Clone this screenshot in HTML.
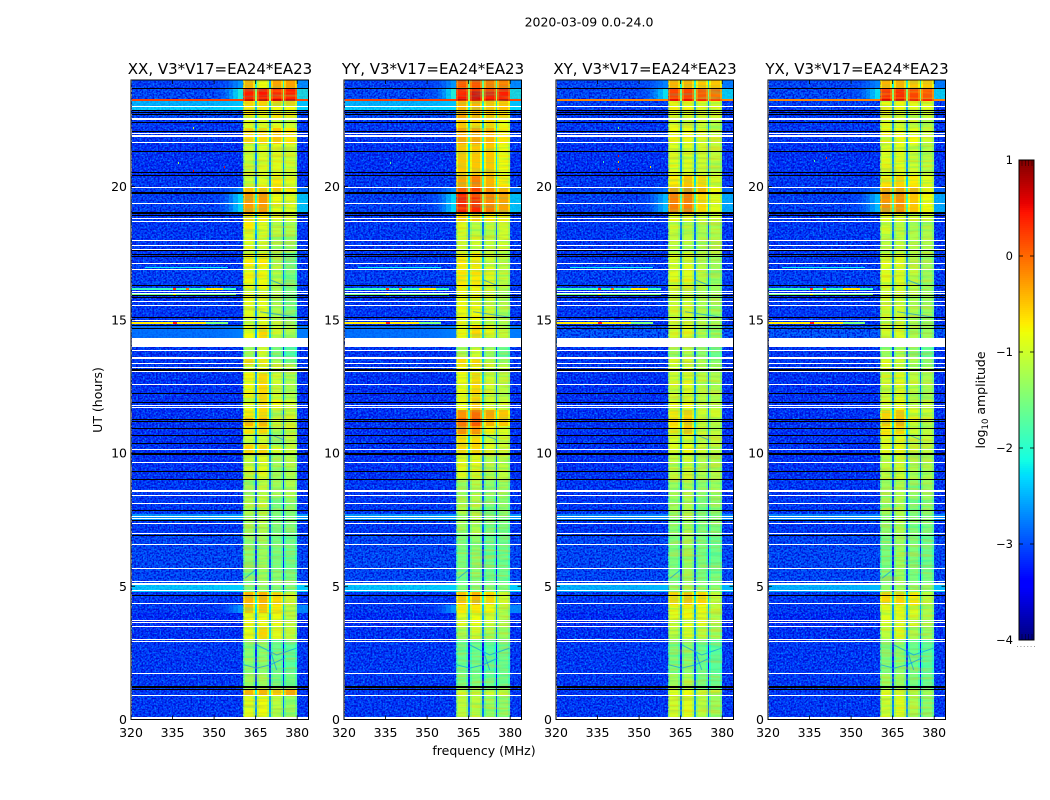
<!DOCTYPE html>
<html>
<head>
<meta charset="utf-8">
<title>2020-03-09 0.0-24.0</title>
<style>
html,body{margin:0;padding:0;background:#fff;}
body{width:1050px;height:800px;overflow:hidden;}
svg{display:block;font-family:"DejaVu Sans","Liberation Sans",sans-serif;fill:#000;}
</style>
</head>
<body>
<svg id="figure" xmlns="http://www.w3.org/2000/svg" width="1050" height="800" viewBox="0 0 1050 800">
<defs>
<filter id="speckle-light" x="0" y="0" width="100%" height="100%" color-interpolation-filters="sRGB">
<feTurbulence type="fractalNoise" baseFrequency="0.6" numOctaves="1" seed="4"/>
<feColorMatrix type="matrix" values="0 0 0 0 0  0 0 0 0 .5  0 0 0 0 1  4.2 0 0 0 -1.85"/>
</filter>
<filter id="speckle-dark" x="0" y="0" width="100%" height="100%" color-interpolation-filters="sRGB">
<feTurbulence type="fractalNoise" baseFrequency="0.55" numOctaves="1" seed="11"/>
<feColorMatrix type="matrix" values="0 0 0 0 0  0 0 0 0 0  0 0 0 0 .8  4.2 0 0 0 -1.8"/>
</filter>
<filter id="streak-cool" x="0" y="0" width="100%" height="100%" color-interpolation-filters="sRGB">
<feTurbulence type="fractalNoise" baseFrequency="0.03 0.4" numOctaves="2" seed="7"/>
<feColorMatrix type="matrix" values="0 0 0 0 0  0 0 0 0 .9  0 0 0 0 .7  4 0 0 0 -1.8"/>
</filter>
<filter id="streak-warm" x="0" y="0" width="100%" height="100%" color-interpolation-filters="sRGB">
<feTurbulence type="fractalNoise" baseFrequency="0.03 0.4" numOctaves="2" seed="21"/>
<feColorMatrix type="matrix" values="0 0 0 0 1  0 0 0 0 .7  0 0 0 0 0  4 0 0 0 -1.8"/>
</filter>
</defs>
<text x="589" y="26.5" font-size="12.5" text-anchor="middle">2020-03-09 0.0-24.0</text>
<text x="484" y="755" font-size="12.5" text-anchor="middle">frequency (MHz)</text>
<text transform="translate(102 400) rotate(-90)" font-size="12.5" text-anchor="middle">UT (hours)</text>
<text transform="translate(985 400) rotate(-90)" font-size="12.5" text-anchor="middle">log<tspan font-size="8.5" dy="3">10</tspan><tspan dy="-3"> amplitude</tspan></text>
<g id="panels"></g>
<g id="colorbar"></g>
</svg>
<script>
// ---- tick labels and categories
const panelTitles = ["XX, V3*V17=EA24*EA23","YY, V3*V17=EA24*EA23","XY, V3*V17=EA24*EA23","YX, V3*V17=EA24*EA23"];
const freqTicks = [320,335,350,365,380];
const hourTicks = [0,5,10,15,20];
const colorbarTicks = [1,0,-1,-2,-3,-4];

// ---- time rows (hours): 48 rows, 49 edges
const rowEdgeHours = [0.08,0.9,1.1,1.7,3,3.5,4,4.3,4.8,5.1,5.5,7,7.5,7.7,8.3,9,10,10.3,10.7,11,11.3,11.6,12,13,13.3,13.6,14,14.3,14.8,15,16,16.2,17,17.5,18.2,18.7,19,19.7,20,20.4,21.6,22.2,22.5,22.85,23,23.2,23.3,23.7,24];

// ---- off-band background log10 amplitude per row
const backgroundParallel = [-3.1,-3.1,-3.1,-3.1,-3.15,-3.2,-3.1,-3.1,-2.35,-3,-3,-3.1,-2.6,-3.1,-3.1,-3.15,-3.15,-3.15,-3.15,-3.15,-3.15,-3.15,-3.15,-3.1,-3.1,-3.1,-3.1,-2.8,-3.1,-3.1,-3.1,-3.05,-3.1,-3.1,-3.1,-3.1,-3.05,-3.05,-3.1,-3.15,-3.1,-3.1,-3,-2.3,-2.45,0.2,-3,-3.05];
const backgroundCross = [-3.1,-3.1,-3.1,-3.1,-3.15,-3.2,-3.1,-3.1,-2.45,-3,-3,-3.1,-2.7,-3.1,-3.1,-3.15,-3.15,-3.15,-3.15,-3.15,-3.15,-3.15,-3.15,-3.1,-3.1,-3.1,-3.1,-2.9,-3.1,-3.1,-3.1,-3.05,-3.1,-3.1,-3.1,-3.1,-3.05,-3.05,-3.1,-3.15,-3.1,-3.1,-3.1,-3.05,-3.05,-0.15,-3,-3];
const wingParallel = [-3.1,-3.1,-3.1,-3.1,-3.1,-3.1,-2.6,-3,-2.35,-3,-3,-3.1,-2.6,-3.1,-3.1,-3.1,-3.1,-3.1,-3.1,-3.1,-3.1,-3.1,-3.1,-3.1,-3.1,-3,-3,-2.75,-3,-3,-3,-3,-3,-3,-3,-3,-2.25,-2.7,-2.9,-3,-2.9,-3,-2.9,-2.3,-2.4,0.2,-2.05,-2.6];
const wingCross = [-3.1,-3.1,-3.1,-3.1,-3.1,-3.1,-2.9,-3,-2.45,-3,-3,-3.1,-2.7,-3.1,-3.1,-3.1,-3.1,-3.1,-3.1,-3.1,-3.1,-3.1,-3.1,-3.1,-3.1,-3,-3,-2.85,-3,-3,-3,-3,-3,-3,-3,-3,-2.4,-2.8,-2.9,-3,-3,-3,-3,-2.95,-2.9,-0.15,-2.2,-2.7];

// ---- sub-band log10 amplitude per row: [365, 370, 375, 380 MHz sub-bands]
const bandsXX = [[-0.9,-0.8,-1.1,-1.3],[-0.4,-0.4,-0.5,-0.3],[-1.3,-1.3,-1.5,-1.5],[-1.4,-1.4,-1.6,-1.7],[-0.8,-0.6,-0.9,-1.1],[-0.8,-0.8,-0.8,-1.1],[-0.5,-0.5,-0.7,-1.1],[-0.4,-0.4,-0.6,-1],[-1.5,-1.4,-1.5,-1.5],[-1.5,-1.3,-1.4,-1.5],[-1.4,-1.3,-1.5,-1.6],[-1.3,-1.2,-1.5,-1.5],[-1.3,-1.2,-1.5,-1.5],[-1.2,-1.1,-1.5,-1.4],[-1.3,-1.1,-1.3,-1.2],[-1,-0.9,-1.3,-1.2],[-0.6,-0.6,-0.9,-1],[-1,-1,-1.4,-1.1],[-0.7,-0.6,-1.2,-1],[-0.4,-0.4,-1,-1],[-0.7,-0.6,-1.2,-1],[-0.8,-0.6,-0.8,-1],[-0.8,-0.6,-1,-1.2],[-1,-0.9,-1.1,-1.2],[-0.6,-0.7,-1.2,-1.5],[-1.3,-1,-1.5,-1.8],[-1.3,-1,-1.5,-1.8],[-0.8,-0.6,-1,-1.2],[-1,-0.9,-1.1,-1.4],[-0.9,-0.9,-1.2,-1.5],[-0.9,-0.9,-1.2,-1.5],[-0.8,-0.8,-1.1,-1.5],[-0.7,-0.7,-1.2,-1.6],[-0.9,-1,-1.2,-1.3],[-0.7,-0.9,-1.1,-1.2],[-0.6,-0.7,-0.9,-1],[-0.25,-0.25,-0.8,-0.9],[-0.5,-0.5,-0.5,-0.7],[-1,-0.9,-0.7,-0.9],[-1,-0.9,-0.9,-1],[-0.6,-0.6,-0.5,-0.7],[-0.9,-0.9,-0.9,-1],[-0.7,-0.8,-0.7,-0.8],[-0.7,-0.7,-0.8,-0.8],[-0.6,-0.6,-0.6,-0.6],[0.7,0.7,0.65,0.6],[0.4,0.45,0.35,0.4],[-0.4,-0.8,-0.3,-0.3]];
const bandsYY = [[-1.1,-1.1,-1.3,-1.4],[-1,-1,-1,-1],[-1.5,-1.5,-1.6,-1.6],[-1.6,-1.6,-1.7,-1.6],[-1.2,-1,-1.2,-1.3],[-0.9,-0.8,-1,-1.2],[-0.7,-0.7,-0.8,-1.1],[-0.5,-0.4,-0.6,-1],[-1.5,-1.5,-1.5,-1.5],[-1.6,-1.4,-1.6,-1.6],[-1.5,-1.4,-1.6,-1.6],[-1.3,-1.2,-1.5,-1.5],[-1.3,-1.2,-1.5,-1.5],[-1.2,-1.2,-1.5,-1.4],[-1.3,-1.2,-1.4,-1.3],[-0.9,-0.9,-1.2,-1.1],[-0.6,-0.6,-0.9,-1],[-0.6,-0.6,-1,-1],[-0.2,-0.2,-0.8,-0.9],[0,0.1,-0.4,-0.5],[-0.2,0,-0.3,-0.5],[-0.8,-0.5,-0.9,-1],[-0.8,-0.6,-1,-1.1],[-0.8,-0.8,-1,-1.1],[-0.6,-0.6,-1,-1.3],[-1.2,-1,-1.3,-1.6],[-1.2,-1,-1.3,-1.6],[-0.8,-0.6,-0.9,-1.1],[-0.9,-0.8,-1,-1.2],[-0.8,-0.8,-1,-1.2],[-0.8,-0.8,-1,-1.2],[-0.7,-0.7,-0.9,-1.1],[-0.7,-0.7,-1,-1.1],[-1,-1,-1.1,-1],[-0.9,-1.1,-1.1,-1],[-0.5,-0.5,-0.7,-0.7],[0.4,0.35,-0.1,-0.3],[0.1,0.2,-0.2,-0.4],[-0.3,-0.1,-0.4,-0.7],[-0.5,-0.5,-0.5,-0.8],[-0.3,-0.3,-0.4,-0.7],[-0.5,-0.6,-0.6,-0.8],[-0.3,-0.4,-0.5,-0.6],[-0.4,-0.4,-0.5,-0.5],[-0.4,-0.4,-0.5,-0.5],[0.7,0.7,0.7,0.7],[0.45,0.55,0.45,0.4],[0.1,0.1,-0.1,-0.1]];
const bandsXY = [[-1,-0.9,-1.1,-1.3],[-0.9,-0.8,-1,-1.1],[-1.3,-1.2,-1.5,-1.6],[-1.5,-1.4,-1.6,-1.7],[-1.1,-0.9,-1.1,-1.3],[-0.9,-0.8,-0.9,-1.2],[-0.9,-0.8,-0.8,-1.1],[-0.6,-0.5,-0.6,-1.1],[-1.4,-1.3,-1.4,-1.4],[-1.5,-1.3,-1.5,-1.5],[-1.5,-1.3,-1.5,-1.6],[-1.4,-1.2,-1.5,-1.5],[-1.4,-1.2,-1.5,-1.5],[-1.3,-1.2,-1.5,-1.4],[-1.3,-1.2,-1.4,-1.3],[-1.1,-1,-1.2,-1.2],[-0.9,-0.8,-1,-1.1],[-0.9,-0.9,-1.1,-1.1],[-0.7,-0.5,-1,-1.1],[-0.6,-0.5,-1,-1.1],[-0.7,-0.6,-1,-1],[-0.9,-0.8,-1.1,-1.1],[-1,-0.9,-1.1,-1.2],[-1,-1,-1.2,-1.2],[-0.9,-1,-1.2,-1.4],[-1.3,-1.2,-1.4,-1.6],[-1.3,-1.2,-1.4,-1.6],[-1,-0.9,-1.2,-1.3],[-1,-1,-1.2,-1.3],[-1,-1,-1.2,-1.3],[-1,-1,-1.2,-1.3],[-0.9,-0.9,-1.1,-1.3],[-0.9,-0.9,-1.2,-1.3],[-1.1,-1.1,-1.2,-1.2],[-1,-1.1,-1.2,-1.2],[-0.8,-0.9,-1,-1],[-0.1,-0.1,-0.6,-0.9],[-0.3,-0.2,-0.4,-0.8],[-0.7,-0.5,-0.6,-0.9],[-0.9,-0.9,-1,-1.1],[-0.8,-0.8,-0.9,-1],[-0.9,-1,-1,-1.1],[-0.9,-0.9,-1,-1],[-0.8,-0.8,-0.9,-0.9],[-0.8,-0.8,-0.9,-0.9],[0.5,0.5,0.4,0.3],[0.2,0.2,0.1,0],[-0.4,-0.4,-0.5,-0.5]];
const bandsYX = [[-1,-0.9,-1.2,-1.4],[-0.9,-0.9,-1,-1.2],[-1.3,-1.3,-1.5,-1.6],[-1.5,-1.4,-1.6,-1.7],[-1.1,-0.9,-1.2,-1.3],[-0.9,-0.9,-1,-1.2],[-0.9,-0.8,-0.9,-1.2],[-0.6,-0.6,-0.7,-1.1],[-1.4,-1.3,-1.4,-1.4],[-1.5,-1.3,-1.5,-1.5],[-1.5,-1.3,-1.5,-1.6],[-1.4,-1.2,-1.5,-1.5],[-1.4,-1.2,-1.5,-1.5],[-1.3,-1.2,-1.5,-1.4],[-1.3,-1.2,-1.4,-1.3],[-1.1,-1,-1.2,-1.2],[-0.9,-0.8,-1,-1.1],[-0.9,-0.9,-1.1,-1.1],[-0.7,-0.6,-1,-1.1],[-0.5,-0.4,-0.9,-1.1],[-0.6,-0.5,-0.9,-1],[-0.9,-0.8,-1.1,-1.1],[-1,-0.9,-1.1,-1.2],[-1,-1,-1.2,-1.2],[-0.9,-1,-1.2,-1.4],[-1.3,-1.2,-1.4,-1.6],[-1.3,-1.2,-1.4,-1.6],[-1,-0.9,-1.2,-1.3],[-1,-1,-1.2,-1.3],[-1,-1,-1.2,-1.3],[-1,-1,-1.2,-1.3],[-0.9,-0.9,-1.1,-1.3],[-0.9,-0.9,-1.2,-1.3],[-1.1,-1.1,-1.2,-1.2],[-1,-1.1,-1.2,-1.2],[-0.8,-0.9,-1,-1],[-0.2,-0.2,-0.5,-0.8],[-0.3,-0.3,-0.4,-0.8],[-0.7,-0.6,-0.7,-0.9],[-0.9,-0.9,-1,-1.1],[-0.8,-0.8,-0.8,-1],[-0.9,-1,-1,-1.1],[-0.9,-0.9,-1,-1],[-0.8,-0.8,-0.9,-0.9],[-0.8,-0.8,-0.9,-0.9],[0.6,0.6,0.5,0.4],[0.3,0.35,0.2,0.1],[-0.4,-0.4,-0.5,-0.5]];

// ---- flagged integrations (hours)
const whiteFlagHours = [23.02,22.56,22.5,21.99,21.93,21.87,21.66,19.97,19.37,18.8,18.69,17.98,17.78,17.64,17.12,16.89,16.05,15.99,15.7,15.54,14.99,13.83,13.6,13.56,13.34,13.22,13.05,12.58,11.8,11.69,10.14,9.65,8.59,8.55,8.42,8.11,7.6,7.56,7.36,6.97,6.57,5.67,5.16,5.12,5.08,4.83,4.36,3.7,3.65,3.48,3.01,2.91,1.73,0.91];
const blackFlagHours = [23.66,22.85,22.78,22.69,22.41,22.05,21.32,20.53,20.41,19.77,19.72,19.04,18.97,18.9,17.59,17.44,17.39,16.3,15.92,15.85,15.09,14.78,14.68,13.15,13.11,12.24,11.88,11.24,11.2,10.93,10.64,10.34,10,9.96,9.32,9.01,7.86,7.45,6.92,4.67,1.23,1.19,1.11];
const blankStartHours = [13.99,0];
const blankEndHours = [14.31,0.08];

// ---- narrow-band interference lines
const rfiHours = [16.18,16.18,16.18,16.18,15.97,15.97,14.88,14.88,14.88,16.95];
const rfiStartFreq = [320,335,340,347,320,335,320,335,347,325];
const rfiEndFreq = [358,336,341,353,358,336,347,336.5,355,355];
const rfiLevels = [-1.9,0.3,0,-0.7,-1.6,-0.8,-0.7,0.4,-1.5,-2.2];

// ---- isolated spikes
const spikePanels = [0,0,0,0,1,2,2,2,2,2,2,3,3];
const spikeHours = [22.2,20.9,20.73,20.6,20.9,22.2,21.15,20.93,20.67,20.74,20.93,20.95,21.07];
const spikeFreqs = [342.4,337,353.6,342.4,336.6,342.4,342.4,342.4,342.4,353.8,337,336.6,341];
const spikeLevels = [-1,-1.3,0.5,0.6,-1.7,-1.5,0.5,-0.4,0.6,-0.6,-2,-1.7,0.3];

// ---- faint absorption trails across the sub-bands
const trailFreqs = [[365.4,372.6,379.8],[360.8,365.4,370.2,375.6],[370.2,372.6],[361.2,364.8],[366.6,379.6],[370.2,375],[370.2,375]];
const trailHours = [[2.8,2.42,2.68],[2.05,1.93,2.05,2.31],[2.6,1.86],[5.3,5.6],[15.3,15.1],[16.5,16.3],[10.7,10.5]];
const trailLevel = -2.7;

// ---- sub-band structure (MHz)
const bandLowFreq = [360.5,365.5,370.5,375.4];
const bandHighFreq = [364.9,369.9,374.8,380];
const bandRolloff = -0.28;
const gapDrop = -1.75;
const wingEdgeFreqs = [350,352,354,355.5,357,358.5,360.5];
const wingWeights = [0.08,0.2,0.38,0.58,0.8,1];

const panelBands = [bandsXX,bandsYY,bandsXY,bandsYX];
const panelBackground = [backgroundParallel,backgroundParallel,backgroundCross,backgroundCross];
const panelWing = [wingParallel,wingParallel,wingCross,wingCross];

// ---- axes
const NS = "http://www.w3.org/2000/svg";
const axesLeft = [131,344,556,768];
const axesTop = 80, axesBottom = 719.5, pxPerMHz = 2.77, pxPerHour = 26.65, imageStartFreq = 320.3, freqMax = 384;
function xScale(p, f){ return axesLeft[p] + (f - 320) * pxPerMHz; }
function yScale(h){ return axesBottom - h * pxPerHour; }
function jet(level){
  const t = Math.max(0, Math.min(1, (level + 4) / 5));
  const seg = (pts) => { for (let i = 1; i < pts.length; i++) { if (t <= pts[i][0]) { const a = pts[i-1], b = pts[i]; return a[1] + (b[1]-a[1]) * (t-a[0]) / (b[0]-a[0]); } } return pts[pts.length-1][1]; };
  const r = seg([[0,0],[0.35,0],[0.66,1],[0.89,1],[1,0.5]]);
  const g = seg([[0,0],[0.125,0],[0.375,1],[0.64,1],[0.91,0],[1,0]]);
  const b = seg([[0,0.5],[0.11,1],[0.34,1],[0.65,0],[1,0]]);
  return "rgb(" + Math.round(r*255) + "," + Math.round(g*255) + "," + Math.round(b*255) + ")";
}
function setAll(node, attrs){ for (const k in attrs) node.setAttribute(k, attrs[k]); return node; }
function cell(parent, p, f0, f1, h0, h1, level, opacity){
  const x0 = Math.round(xScale(p, f0)), x1 = Math.round(xScale(p, f1));
  const y0 = Math.round(yScale(h1)), y1 = Math.round(yScale(h0));
  const r = document.createElementNS(NS, "rect");
  
  
  setAll(r, {x:x0, y:y0, width:Math.max(1,x1-x0), height:Math.max(1,y1-y0), fill:jet(level), "shape-rendering":"crispEdges", opacity:opacity === undefined ? 1 : opacity});
  parent.appendChild(r);
}
function speckle(parent, p, f0, f1, filterId, opacity){
  const r = document.createElementNS(NS, "rect");
  
  
  setAll(r, {x:xScale(p,f0), y:axesTop+1, width:xScale(p,f1)-xScale(p,f0), height:636, fill:"#000", filter:"url(#"+filterId+")", opacity:opacity});
  parent.appendChild(r);
}

const panelsRoot = document.getElementById("panels");
panelTitles.forEach(function(title, p){
  const g = document.createElementNS(NS, "g");
  
  
  panelsRoot.appendChild(g);

  const bands = panelBands[p], bgLevels = panelBackground[p], wingLevels = panelWing[p];
  for (let i = 0; i < rowEdgeHours.length - 1; i++) {
    const h0 = rowEdgeHours[i], h1 = rowEdgeHours[i+1];
    const bg = bgLevels[i], wing = wingLevels[i], row = bands[i];
    cell(g, p, imageStartFreq, bandLowFreq[0], h0, h1, bg);
    row.forEach(function(v, b){
      const lo = bandLowFreq[b], hi = bandHighFreq[b];
      cell(g, p, lo, lo+0.7, h0, h1, v + bandRolloff);
      cell(g, p, lo+0.7, hi-0.7, h0, h1, v);
      cell(g, p, hi-0.7, hi, h0, h1, v + bandRolloff);
      if (b < 3) cell(g, p, hi, bandLowFreq[b+1], h0, h1, v + gapDrop);
    });
    cell(g, p, bandHighFreq[3], freqMax, h0, h1, bg);
  }

  speckle(g, p, imageStartFreq, bandLowFreq[0], "speckle-light", 0.95);
  speckle(g, p, imageStartFreq, bandLowFreq[0], "speckle-dark", 0.8);
  speckle(g, p, bandHighFreq[3], freqMax, "speckle-light", 0.95);
  speckle(g, p, bandHighFreq[3], freqMax, "speckle-dark", 0.8);
  speckle(g, p, bandLowFreq[0], bandHighFreq[3], "streak-cool", 0.22);
  speckle(g, p, bandLowFreq[0], bandHighFreq[3], "streak-warm", 0.3);

  // bright stripes and wings sit above the noise texture
  for (let i = 0; i < rowEdgeHours.length - 1; i++) {
    const h0 = rowEdgeHours[i], h1 = rowEdgeHours[i+1];
    const bg = bgLevels[i], wing = wingLevels[i];
    if (bg > -2.85) {
      cell(g, p, imageStartFreq, bandLowFreq[0], h0, h1, bg, bg > -1 ? 1 : 0.75);
      cell(g, p, bandHighFreq[3], freqMax, h0, h1, bg, bg > -1 ? 1 : 0.75);
    }
    if (wing > -2.85) {
      wingWeights.forEach(function(w, k){
        cell(g, p, wingEdgeFreqs[k], wingEdgeFreqs[k+1], h0, h1, bg + (wing-bg)*w, 0.3 + 0.6*w);
      });
      cell(g, p, bandHighFreq[3], freqMax, h0, h1, wing, wing > -1 ? 1 : 0.75);
    }
  }

  trailFreqs.forEach(function(fs, t){
    const line = document.createElementNS(NS, "polyline");
    
    
    const pts = fs.map(function(f, k){ return xScale(p, f) + "," + yScale(trailHours[t][k]); }).join(" ");
    setAll(line, {points:pts, fill:"none", stroke:jet(trailLevel), "stroke-width":1, opacity:0.6});
    g.appendChild(line);
  });

  rfiHours.forEach(function(h, k){
    const r = document.createElementNS(NS, "rect");
    
    
    setAll(r, {x:Math.round(xScale(p, rfiStartFreq[k])), y:Math.round(yScale(h)-0.5), width:Math.max(1,Math.round((rfiEndFreq[k]-rfiStartFreq[k])*pxPerMHz)), height:k < 9 ? 2 : 1, fill:jet(rfiLevels[k]), "shape-rendering":"crispEdges"});
    g.appendChild(r);
  });

  spikeHours.forEach(function(h, k){
    if (spikePanels[k] !== p) return;
    const r = document.createElementNS(NS, "rect");
    
    
    setAll(r, {x:Math.round(xScale(p, spikeFreqs[k])), y:Math.round(yScale(h)-1), width:1, height:2, fill:jet(spikeLevels[k]), "shape-rendering":"crispEdges"});
    g.appendChild(r);
  });

  blackFlagHours.forEach(function(h){
    const r = document.createElementNS(NS, "rect");
    
    
    setAll(r, {x:axesLeft[p]+1, y:Math.round(yScale(h)-0.5), width:177, height:1, fill:"#000", "shape-rendering":"crispEdges"});
    g.appendChild(r);
  });
  whiteFlagHours.forEach(function(h){
    const r = document.createElementNS(NS, "rect");
    
    
    setAll(r, {x:axesLeft[p]+1, y:Math.round(yScale(h)-0.5), width:177, height:1, fill:"#fff", "shape-rendering":"crispEdges"});
    g.appendChild(r);
  });
  blankStartHours.forEach(function(h, k){
    const r = document.createElementNS(NS, "rect");
    
    
    setAll(r, {x:axesLeft[p]+1, y:Math.round(yScale(blankEndHours[k])), width:177, height:Math.round(yScale(h))-Math.round(yScale(blankEndHours[k])), fill:"#fff", "shape-rendering":"crispEdges"});
    g.appendChild(r);
  });

  const frame = document.createElementNS(NS, "rect");
  
  
  setAll(frame, {x:axesLeft[p], y:axesTop, width:177.5, height:axesBottom-axesTop, fill:"none", stroke:"#000", "stroke-width":1});
  g.appendChild(frame);

  const ttl = document.createElementNS(NS, "text");
  
  
  setAll(ttl, {x:axesLeft[p]+89, y:74, "font-size":15, "text-anchor":"middle"});
  ttl.textContent = title;
  g.appendChild(ttl);

  freqTicks.forEach(function(f){
    const x = xScale(p, f);
    [[axesBottom, axesBottom-4],[axesTop, axesTop+4]].forEach(function(s){
      const t = document.createElementNS(NS, "line");
      
      
      setAll(t, {x1:x, x2:x, y1:s[0], y2:s[1], stroke:"#000", "stroke-width":0.8});
      g.appendChild(t);
    });
    const lab = document.createElementNS(NS, "text");
    
    
    setAll(lab, {x:x, y:737, "font-size":12.5, "text-anchor":"middle"});
    lab.textContent = String(f);
    g.appendChild(lab);
  });
  hourTicks.forEach(function(h){
    const y = yScale(h);
    [[axesLeft[p], axesLeft[p]+4],[axesLeft[p]+177.5, axesLeft[p]+173.5]].forEach(function(s){
      const t = document.createElementNS(NS, "line");
      
      
      setAll(t, {x1:s[0], x2:s[1], y1:y, y2:y, stroke:"#000", "stroke-width":0.8});
      g.appendChild(t);
    });
    const lab = document.createElementNS(NS, "text");
    
    
    setAll(lab, {x:axesLeft[p]-4, y:y+4.5, "font-size":12.5, "text-anchor":"end"});
    lab.textContent = String(h);
    g.appendChild(lab);
  });
});

// ---- colorbar
const cbRoot = document.getElementById("colorbar");
const cbLeft = 1019, cbRight = 1034, cbTop = 160, cbBottom = 640, cbMin = -4, cbMax = 1;
function cbY(v){ return cbBottom - (v - cbMin) / (cbMax - cbMin) * (cbBottom - cbTop); }
for (let y = cbTop; y < cbBottom; y += 2) {
  const v = cbMax - (y + 1 - cbTop) / (cbBottom - cbTop) * (cbMax - cbMin);
  const r = document.createElementNS(NS, "rect");
  
  
  setAll(r, {x:cbLeft, y:y, width:cbRight-cbLeft, height:2, fill:jet(v), "shape-rendering":"crispEdges"});
  cbRoot.appendChild(r);
}
const cbFrame = document.createElementNS(NS, "rect");


setAll(cbFrame, {x:cbLeft, y:cbTop, width:cbRight-cbLeft, height:cbBottom-cbTop, fill:"none", stroke:"#000", "stroke-width":1});
cbRoot.appendChild(cbFrame);
colorbarTicks.forEach(function(v){
  const y = cbY(v);
  [[cbLeft, cbLeft+4],[cbRight, cbRight-4]].forEach(function(s){
    const t = document.createElementNS(NS, "line");
    
    
    setAll(t, {x1:s[0], x2:s[1], y1:y, y2:y, stroke:"#000", "stroke-width":0.8});
    cbRoot.appendChild(t);
  });
  const lab = document.createElementNS(NS, "text");
  
  
  setAll(lab, {x:1013, y:y+4, "font-size":11.5, "text-anchor":"end"});
  lab.textContent = v < 0 ? "\u2212" + Math.abs(v) : String(v);
  cbRoot.appendChild(lab);
});
[1022,1025.3,1028.7,1032].forEach(function(x){
  [[cbTop, cbTop+6],[cbBottom, cbBottom-6]].forEach(function(s){
    const t = document.createElementNS(NS, "line");
    
    
    setAll(t, {x1:x, x2:x, y1:s[0], y2:s[1], stroke:"#000", "stroke-width":0.6, opacity:0.7});
    cbRoot.appendChild(t);
  });
});
[1017,1020.4,1023.8,1027.2,1030.6,1034].forEach(function(x){
  const d = document.createElementNS(NS, "rect");
  
  
  setAll(d, {x:x, y:646, width:1, height:1, fill:"#999"});
  cbRoot.appendChild(d);
});
</script>
</body>
</html>
